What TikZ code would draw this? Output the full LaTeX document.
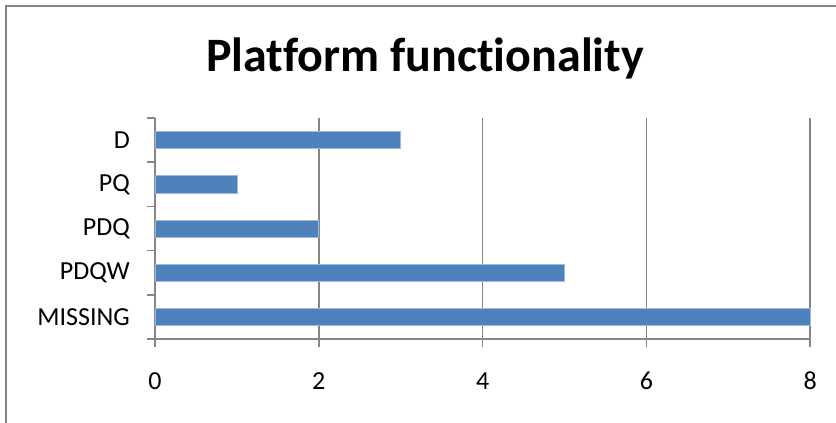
\documentclass[tikz,border=0pt]{standalone}
\usepackage{fontspec}
\setmainfont[Ligatures=NoCommon]{Carlito}
\definecolor{barblue}{HTML}{4F81BD}
\definecolor{baredge}{HTML}{9DB9DC}
\definecolor{axisgray}{HTML}{868686}
\begin{document}
\begin{tikzpicture}[x=1pt,y=-1pt,
  frameline/.style={draw=axisgray,line width=1.6pt},
  gridline/.style={draw=axisgray,line width=1.5pt},
  bar/.style={fill=barblue,draw=baredge,line width=0.7pt},
  catlabel/.style={anchor=east,inner sep=0pt,font=\fontsize{26}{30}\selectfont},
  ticklabel/.style={anchor=center,inner sep=0pt,font=\fontsize{26}{30}\selectfont},
  titlestyle/.style={anchor=base,inner sep=0pt,font=\fontsize{48}{54}\selectfont\bfseries}]
\useasboundingbox (0,0) rectangle (836,423);
% chart frame (continues past the right and bottom edges)
\draw[frameline] (6,423) -- (6,6) -- (836,6);
% title
\node[titlestyle] (title) at (425,71) {Platform functionality};
% vertical gridlines and value ticks
\foreach \v in {0,2,4,6,8} {
  \draw[gridline] ({155+81.9*\v},118) -- ({155+81.9*\v},347);
  \node[ticklabel] (tick\v) at ({155+81.9*\v},381) {\v};
}
% category axis with its tick marks
\draw[gridline] (147,339) -- (810.2,339);
\foreach \k in {0,...,5} {
  \draw[gridline] (147,{339-44.2*\k}) -- (155,{339-44.2*\k});
}
% bars and their category labels
\foreach \name/\val [count=\i from 0] in {MISSING/8,PDQW/5,PDQ/2,PQ/1,D/3} {
  \pgfmathsetmacro{\yc}{339-44.2*(\i+0.5)}
  \draw[bar] (155.8,{\yc-8.6}) rectangle ({155+81.9*\val},{\yc+8.6});
  \node[catlabel] (cat\i) at (130,\yc) {\name};
}
\end{tikzpicture}
\end{document}
